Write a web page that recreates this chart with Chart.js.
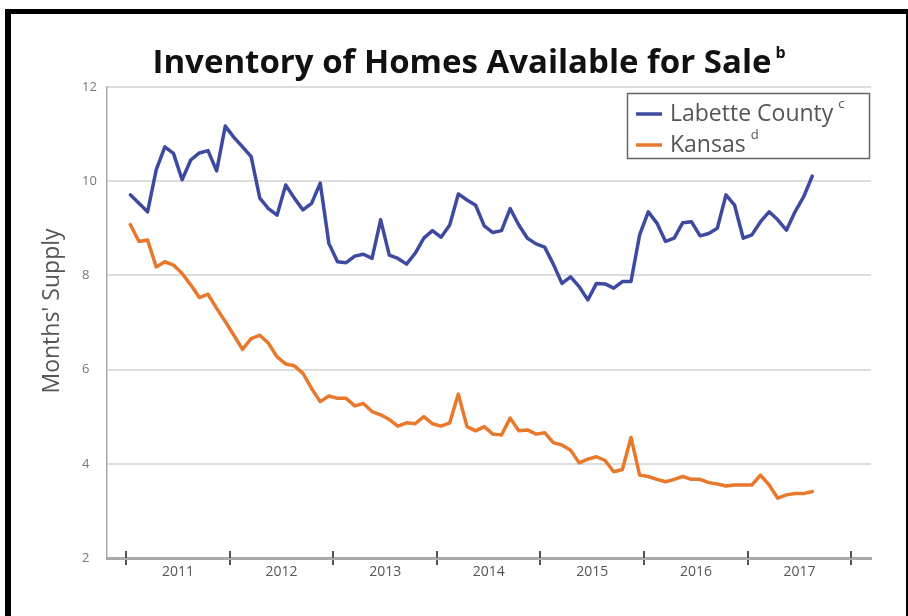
<!DOCTYPE html>
<html>
<head>
<meta charset="utf-8">
<script src="https://cdn.jsdelivr.net/npm/chart.js@4.4.0/dist/chart.umd.min.js"></script>
<style>
html, body { margin: 0; padding: 0; background: #fff; overflow: hidden; }
#wrap { position: absolute; left: 0; top: 0; width: 908px; height: 616px; }
#frame { position: absolute; left: 5px; top: 9px; width: 895px; height: 640px;
  border-left: 6px solid #000; border-top: 5px solid #000; border-right: 6px solid #000;
  pointer-events: none; }
</style>
</head>
<body>
<div id="wrap"><canvas id="chart" width="908" height="616"></canvas></div>
<div id="frame"></div>
<script>
// monthly values, Jan 2011 .. Aug 2017
const years = ['2011', '2012', '2013', '2014', '2015', '2016', '2017'];
const yTicks = [2, 4, 6, 8, 10, 12];

const labette = [
  9.71, 9.53, 9.35, 10.24, 10.73, 10.59, 10.03, 10.45, 10.6, 10.65,
  10.22, 11.17, 10.93, 10.73, 10.52, 9.64, 9.42, 9.28, 9.92, 9.64,
  9.39, 9.53, 9.96, 8.68, 8.29, 8.27, 8.41, 8.45, 8.36, 9.18,
  8.43, 8.36, 8.24, 8.47, 8.79, 8.95, 8.81, 9.07, 9.73, 9.60,
  9.49, 9.05, 8.91, 8.95, 9.42, 9.07, 8.79, 8.67, 8.60, 8.24,
  7.83, 7.97, 7.76, 7.48, 7.83, 7.82, 7.73, 7.87, 7.87, 8.86,
  9.35, 9.11, 8.72, 8.79, 9.12, 9.14, 8.84, 8.89, 9.00, 9.71,
  9.49, 8.79, 8.86, 9.14, 9.35, 9.18, 8.96, 9.35, 9.67, 10.11
];
const kansas = [
  9.08, 8.72, 8.75, 8.18, 8.29, 8.22, 8.04, 7.80, 7.53, 7.60,
  7.30, 7.02, 6.73, 6.43, 6.66, 6.73, 6.56, 6.27, 6.12, 6.08,
  5.92, 5.60, 5.32, 5.44, 5.39, 5.39, 5.23, 5.28, 5.11, 5.04,
  4.94, 4.80, 4.87, 4.85, 5.00, 4.85, 4.80, 4.87, 5.48, 4.79,
  4.70, 4.79, 4.63, 4.61, 4.97, 4.70, 4.72, 4.63, 4.66, 4.45,
  4.40, 4.29, 4.02, 4.10, 4.15, 4.07, 3.83, 3.88, 4.56, 3.76,
  3.73, 3.67, 3.62, 3.67, 3.73, 3.67, 3.67, 3.60, 3.57, 3.53,
  3.55, 3.55, 3.55, 3.76, 3.55, 3.27, 3.34, 3.37, 3.37, 3.41
];

const BLUE = '#3d4aa0';
const ORANGE = '#e8782c';
const FONT = '"Open Sans", "Liberation Sans", sans-serif';

const toPoints = arr => arr.map((v, i) => ({ x: i, y: v }));

// title, y title, legend box and the upper half of the year ticks
const decor = {
  id: 'decor',
  afterDraw(chart) {
    const ctx = chart.ctx;
    const area = chart.chartArea;
    ctx.save();

    // title
    ctx.fillStyle = '#111';
    ctx.font = 'bold 33px ' + FONT;
    ctx.textAlign = 'center';
    ctx.textBaseline = 'alphabetic';
    const title = 'Inventory of Homes Available for Sale';
    ctx.fillText(title, 462, 73);
    const tw = ctx.measureText(title).width;
    ctx.font = 'bold 16px ' + FONT;
    ctx.textAlign = 'left';
    ctx.fillText('b', 462 + tw / 2 + 4, 58);

    // y axis title
    ctx.save();
    ctx.translate(52, 311);
    ctx.rotate(-Math.PI / 2);
    ctx.fillStyle = '#555';
    ctx.font = '23px ' + FONT;
    ctx.textAlign = 'center';
    ctx.textBaseline = 'middle';
    ctx.fillText("Months' Supply", 0, 0);
    ctx.restore();

    // legend
    ctx.strokeStyle = '#666';
    ctx.lineWidth = 1.5;
    ctx.strokeRect(627.5, 93.5, 242, 65);
    const rows = [
      { text: 'Labette County', sup: 'c', color: BLUE, y: 114 },
      { text: 'Kansas', sup: 'd', color: ORANGE, y: 145 }
    ];
    rows.forEach(r => {
      ctx.strokeStyle = r.color;
      ctx.lineWidth = 3.5;
      ctx.beginPath();
      ctx.moveTo(636, r.y);
      ctx.lineTo(662, r.y);
      ctx.stroke();
      ctx.fillStyle = '#555';
      ctx.font = '23px ' + FONT;
      ctx.textAlign = 'left';
      ctx.textBaseline = 'middle';
      ctx.fillText(r.text, 670, r.y);
      const w = ctx.measureText(r.text).width;
      ctx.font = '13px ' + FONT;
      ctx.fillText(r.sup, 670 + w + 5, r.y - 10);
    });

    // tick stubs above the x axis line
    const xs = chart.scales.x;
    ctx.strokeStyle = '#555';
    ctx.lineWidth = 2;
    xs.ticks.forEach(t => {
      const px = Math.round(xs.getPixelForValue(t.value));
      ctx.beginPath();
      ctx.moveTo(px, area.bottom - 7);
      ctx.lineTo(px, area.bottom);
      ctx.stroke();
    });
    ctx.restore();
  }
};

new Chart(document.getElementById('chart'), {
  type: 'line',
  data: {
    datasets: [
      {
        label: 'Labette County',
        data: toPoints(labette),
        borderColor: BLUE,
        borderWidth: 3.5,
        pointRadius: 0,
        borderJoinStyle: 'round',
        borderCapStyle: 'round'
      },
      {
        label: 'Kansas',
        data: toPoints(kansas),
        borderColor: ORANGE,
        borderWidth: 3.5,
        pointRadius: 0,
        borderJoinStyle: 'round',
        borderCapStyle: 'round'
      }
    ]
  },
  options: {
    responsive: false,
    animation: false,
    layout: { padding: { left: 82, top: 87, right: 37, bottom: 0 } },
    plugins: {
      legend: { display: false },
      title: { display: false },
      tooltip: { enabled: false }
    },
    scales: {
      x: {
        type: 'linear',
        min: -2.7,
        max: 85.8,
        afterFit: s => { s.height = 58; },
        afterBuildTicks: s => {
          s.ticks = years.concat(['']).map((y, k) => ({ value: 12 * k - 0.5 }));
        },
        ticks: {
          autoSkip: false,
          maxRotation: 0,
          padding: -1,
          labelOffset: 52,
          color: '#555',
          font: { family: FONT, size: 14 },
          callback: (v, i) => years[i] || ''
        },
        grid: {
          drawOnChartArea: false,
          drawTicks: true,
          tickLength: 7,
          color: '#555',
          lineWidth: 2
        },
        border: { display: true, color: '#aaa', width: 3 }
      },
      y: {
        min: 2,
        max: 12,
        afterFit: s => { s.width = 25; },
        afterBuildTicks: s => {
          s.ticks = yTicks.map(v => ({ value: v }));
        },
        ticks: {
          crossAlign: 'far',
          color: '#777',
          font: { family: FONT, size: 13 }
        },
        grid: { color: '#ddd', lineWidth: 2, drawTicks: false },
        border: { display: true, color: '#aaa', width: 1.5 }
      }
    }
  },
  plugins: [decor]
});
</script>
</body>
</html>
